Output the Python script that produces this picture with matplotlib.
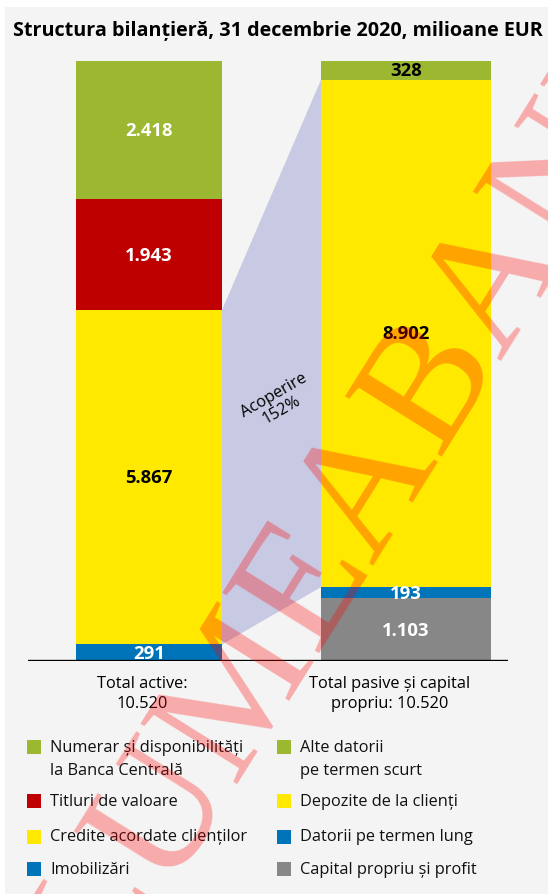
import matplotlib
matplotlib.use("Agg")
import matplotlib.pyplot as plt
from matplotlib.patches import Rectangle

plt.rcParams['font.family'] = ['Open Sans', 'DejaVu Sans']

# ---- data ----
title = "Structura bilanțieră, 31 decembrie 2020, milioane EUR"
bar_labels = ["Total active:\n10.520", "Total pasive și capital\npropriu: 10.520"]

# stacks listed from bottom to top
assets_names = ["Imobilizări", "Credite acordate clienților", "Titluri de valoare",
                "Numerar și disponibilități\nla Banca Centrală"]
assets_values = [291, 5867, 1943, 2418]
liab_names = ["Capital propriu și profit", "Datorii pe termen lung",
              "Depozite de la clienți", "Alte datorii\npe termen scurt"]
liab_values = [1103, 193, 8902, 328]
coverage_text = "Acoperire\n152%"

# ---- styles ----
c_green, c_red, c_yellow, c_blue, c_gray = "#9bb830", "#be0000", "#ffe900", "#0074b8", "#878787"
assets_colors = [c_blue, c_yellow, c_red, c_green]
assets_txt = ["white", "black", "white", "white"]
liab_colors = [c_gray, c_blue, c_yellow, c_green]
liab_txt = ["white", "white", "black", "black"]
FS = 11.8

W, H = 548, 895
fig = plt.figure(figsize=(W / 100, H / 100), dpi=100)
fig.patch.set_facecolor("white")
fig.add_artist(Rectangle((5 / W, 0), 1, 1 - 8 / H, transform=fig.transFigure,
                         facecolor="#f4f4f4", edgecolor="none", zorder=0))

fig.text(13 / W, 1 - 31 / H, title, ha="left", va="center", fontsize=14.2,
         fontweight="bold", color="black")

# bars axes
ax_l, ax_r, ax_b, ax_t = 28, 508, 662, 62
ax = fig.add_axes([ax_l / W, 1 - ax_b / H, (ax_r - ax_l) / W, (ax_b - ax_t) / H])
ax.set_facecolor("none")
ax.axis("off")
unit = 257.0
x0 = -(149 - ax_l) / unit
ax.set_xlim(x0, x0 + (ax_r - ax_l) / unit)
total = max(sum(assets_values), sum(liab_values))
ax.set_ylim(0, total)

w0, w1 = 146 / unit, 170 / unit

def fmt(v):
    return f"{v:,}".replace(",", ".")

def stack(xpos, width, values, colors, tcolors):
    bottom = 0
    bounds = []
    for v, c, tc in zip(values, colors, tcolors):
        ax.bar(xpos, v, width=width, bottom=bottom, color=c, edgecolor="none", zorder=2)
        ax.text(xpos, bottom + v / 2, fmt(v), ha="center", va="center", color=tc,
                fontsize=13.3, fontweight="bold", zorder=3)
        bounds.append((bottom, bottom + v))
        bottom += v
    return bounds

b_as = stack(0, w0, assets_values, assets_colors, assets_txt)
b_li = stack(1, w1, liab_values, liab_colors, liab_txt)

# coverage polygon: credits (assets) vs deposits (liabilities)
ya0, ya1 = b_as[1]
yl0, yl1 = b_li[2]
ax.fill([w0 / 2, 1 - w1 / 2, 1 - w1 / 2, w0 / 2], [ya0, yl0, yl1, ya1],
        color="#c8cae3", edgecolor="none", zorder=1)
ax.text(0.5, (ya0 + yl1) / 2 - 700, coverage_text, ha="center", va="center",
        rotation=30, fontsize=FS, color="black", zorder=3, linespacing=1.0)

ax.axhline(0, color="black", lw=2.4, zorder=4)

# category labels
for cx, lab in zip([142, 390], bar_labels):
    fig.text(cx / W, 1 - 694 / H, lab, ha="center", va="center", fontsize=FS,
             linespacing=1.3, color="black")

# legend
rows_y = [748, 802, 837.5, 870]
for col, (names, colors) in enumerate([(assets_names[::-1], assets_colors[::-1]),
                                        (liab_names[::-1], liab_colors[::-1])]):
    sx = 27 if col == 0 else 277
    tx = 50 if col == 0 else 300
    for y, name, c in zip(rows_y, names, colors):
        fig.add_artist(Rectangle((sx / W, 1 - (y + 7) / H), 14 / W, 14 / H,
                                 transform=fig.transFigure, facecolor=c,
                                 edgecolor="none", zorder=2))
        for i, line in enumerate(name.split("\n")):
            fig.text(tx / W, 1 - (y + 23 * i) / H, line, ha="left", va="center",
                     fontsize=FS, color="#111111", zorder=3)

# watermark
fig.text(110 / W, 1 - 980 / H, "LUMEABANILOR", rotation=58, rotation_mode="anchor",
         ha="left", va="baseline", fontsize=125, family="Liberation Serif",
         color="red", alpha=0.3, zorder=10)

fig.savefig("out.png", dpi=100, facecolor=fig.get_facecolor())
